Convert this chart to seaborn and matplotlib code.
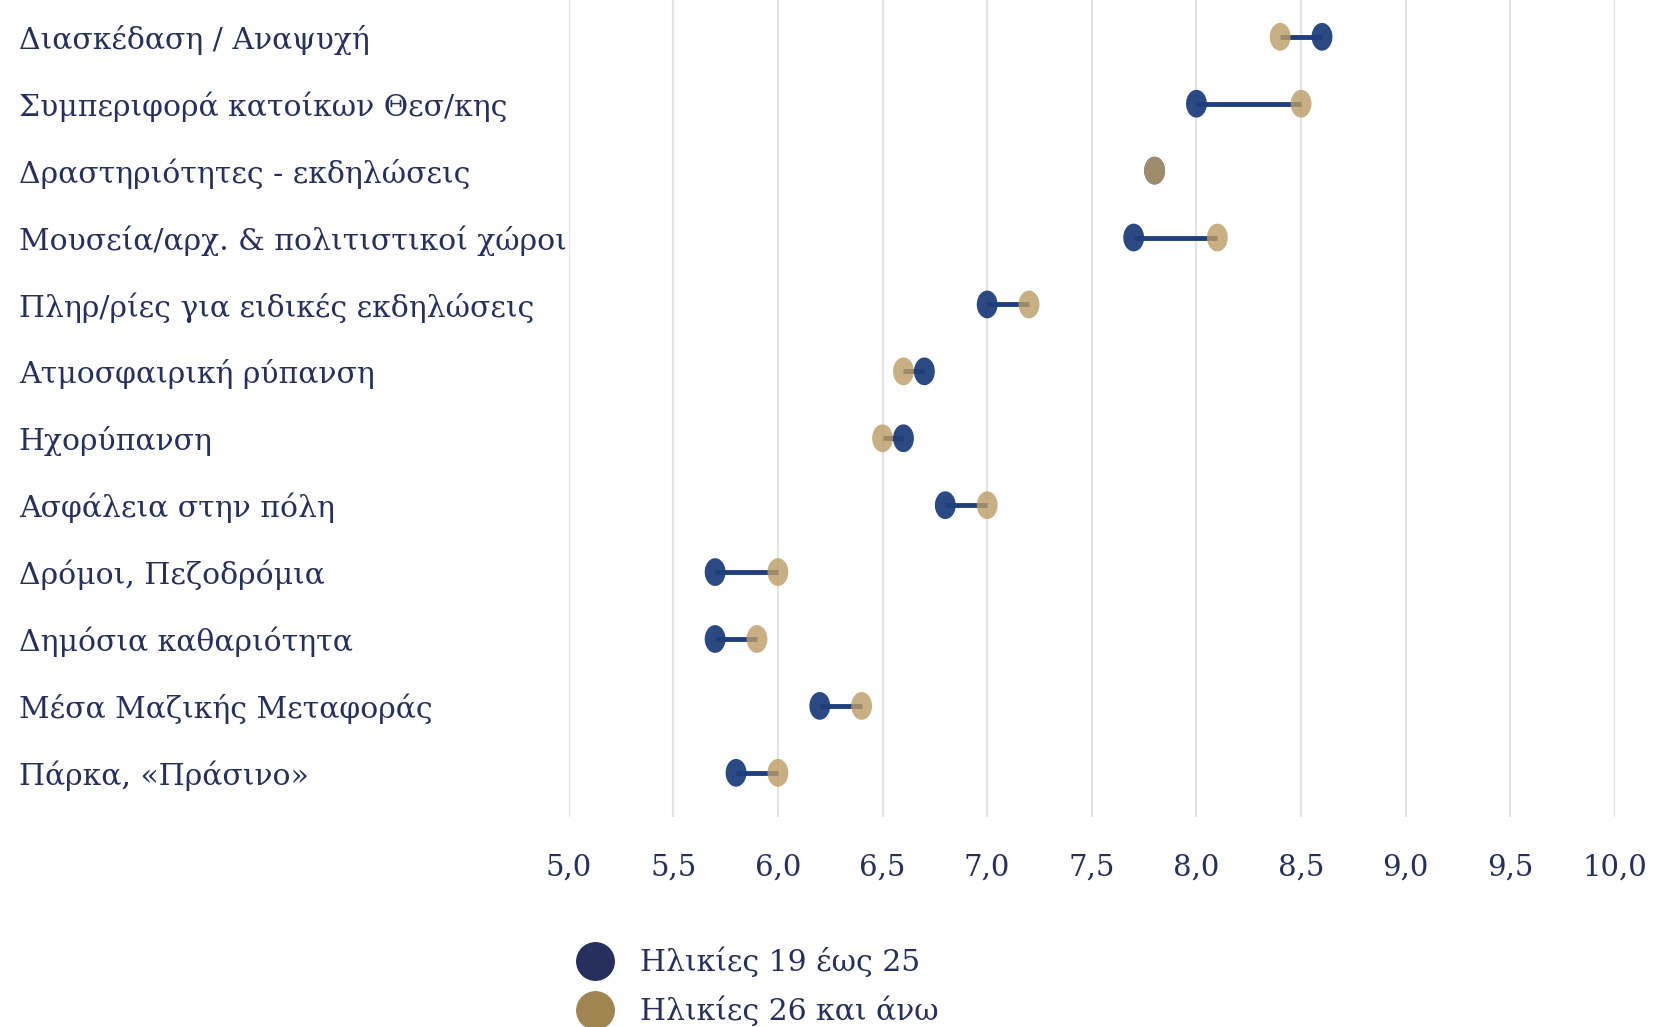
import matplotlib
matplotlib.use("Agg")
import matplotlib.pyplot as plt
from matplotlib.lines import Line2D
from matplotlib.path import Path
import seaborn as sns
import pandas as pd
import numpy as np

categories = [
    "Διασκέδαση / Αναψυχή",
    "Συμπεριφορά κατοίκων Θεσ/κης",
    "Δραστηριότητες - εκδηλώσεις",
    "Μουσεία/αρχ. & πολιτιστικοί χώροι",
    "Πληρ/ρίες για ειδικές εκδηλώσεις",
    "Ατμοσφαιρική ρύπανση",
    "Ηχορύπανση",
    "Ασφάλεια στην πόλη",
    "Δρόμοι, Πεζοδρόμια",
    "Δημόσια καθαριότητα",
    "Μέσα Μαζικής Μεταφοράς",
    "Πάρκα, «Πράσινο»",
]
ages_19_25 = [8.6, 8.0, 7.8, 7.7, 7.0, 6.7, 6.6, 6.8, 5.7, 5.7, 6.2, 5.8]
ages_26_plus = [8.4, 8.5, 7.8, 8.1, 7.2, 6.6, 6.5, 7.0, 6.0, 5.9, 6.4, 6.0]
series_names = ["Ηλικίες 19 έως 25", "Ηλικίες 26 και άνω"]
x_ticks = [5.0, 5.5, 6.0, 6.5, 7.0, 7.5, 8.0, 8.5, 9.0, 9.5, 10.0]

blue = "#1f3f7c"
gold = "#bb9c66"
text_color = "#26305e"

sns.set_theme(style="whitegrid")
plt.rcParams["font.family"] = ["DejaVu Serif"]

df = pd.DataFrame({
    "category": categories * 2,
    "score": ages_19_25 + ages_26_plus,
    "group": [series_names[0]] * len(categories) + [series_names[1]] * len(categories),
})
df["pos"] = df["category"].map({c: i for i, c in enumerate(categories)})

# dots in the original are a bit taller than wide
t = np.linspace(0, 2 * np.pi, 60)
ellipse = Path(np.column_stack([0.75 * np.cos(t), np.sin(t)]), closed=True)

fig = plt.figure(figsize=(16.53, 10.27), dpi=100)
ax = fig.add_axes([0.344, 0.2045, 0.633, 0.7955])

# connecting lines
ax.hlines(range(len(categories)), ages_19_25, ages_26_plus, color=blue, lw=3.5, zorder=2)

sns.scatterplot(data=df[df["group"] == series_names[0]], x="score", y="pos", color=blue,
                marker=ellipse, s=400, edgecolor="none", alpha=0.95, ax=ax, zorder=3, legend=False)
sns.scatterplot(data=df[df["group"] == series_names[1]], x="score", y="pos", color=gold,
                marker=ellipse, s=400, edgecolor="none", alpha=0.8, ax=ax, zorder=4, legend=False)

ax.set_xlim(5.0, 10.0)
ax.set_ylim(11.66, -0.55)
ax.set_xticks(x_ticks)
ax.set_xticklabels([f"{t:.1f}".replace(".", ",") for t in x_ticks], color=text_color, fontsize=21)
ax.set_yticks(range(len(categories)))
ax.set_yticklabels(categories, color=text_color, fontsize=21.5)
for lab in ax.get_yticklabels():
    lab.set_ha("left")
ax.tick_params(axis="y", pad=396, length=0)
ax.tick_params(axis="x", pad=26, length=0)
ax.grid(axis="y", visible=False)
ax.grid(axis="x", color="#e4e4e4", lw=1.6)
ax.set_xlabel("")
ax.set_ylabel("")
for sp in ax.spines.values():
    sp.set_visible(False)

handles = [
    Line2D([], [], marker="o", ls="none", color="#262f5e", markersize=27),
    Line2D([], [], marker="o", ls="none", color="#a08550", markersize=27),
]
fig.legend(handles, series_names, loc="upper left", bbox_to_anchor=(0.340, 0.093),
           frameon=False, fontsize=21.5, labelcolor=text_color, handletextpad=0.9,
           labelspacing=0.63, borderpad=0, handlelength=1.2)

fig.savefig("out.png", dpi=100)
